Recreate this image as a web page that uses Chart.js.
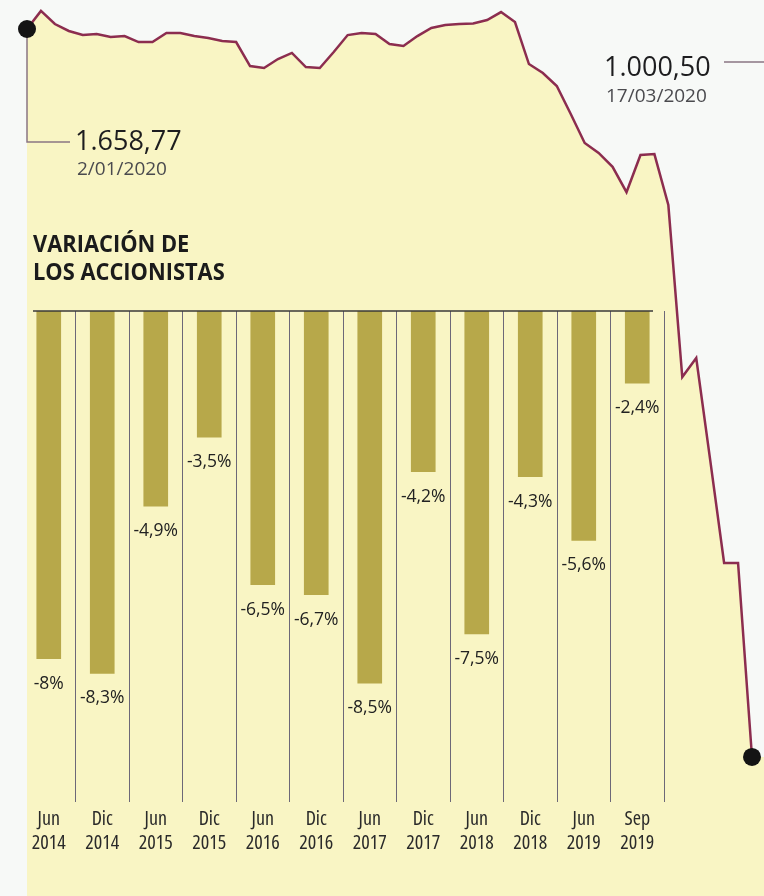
<!DOCTYPE html>
<html>
<head>
<meta charset="utf-8">
<script src="https://cdn.jsdelivr.net/npm/chart.js@4/dist/chart.umd.min.js"></script>
<style>
  html, body { margin: 0; padding: 0; background: #f7f9f7; }
  #wrap { position: relative; width: 764px; height: 896px; overflow: hidden; }
  #wrap canvas { position: absolute; left: 0; top: 0; }
</style>
</head>
<body>
<div id="wrap">
  <canvas id="indice" width="764" height="896"></canvas>
  <canvas id="variacion" width="764" height="896"></canvas>
</div>
<script>
// índice diario (2 de enero a 17 de marzo de 2020)
const fechas = [
  '02/01', '03/01', '07/01', '08/01', '09/01', '10/01', '13/01', '14/01', '15/01', '16/01', '17/01',
  '20/01', '21/01', '22/01', '23/01', '24/01', '27/01', '28/01', '29/01', '30/01', '31/01',
  '03/02', '04/02', '05/02', '06/02', '07/02', '10/02', '11/02', '12/02', '13/02', '14/02',
  '17/02', '18/02', '19/02', '20/02', '21/02', '24/02', '25/02', '26/02', '27/02', '28/02',
  '02/03', '03/03', '04/03', '05/03', '06/03', '09/03', '10/03', '11/03', '12/03', '13/03',
  '16/03', '17/03'
];
const indice = [
  1658.77, 1675.1, 1663.3, 1657.0, 1653.3, 1654.3, 1651.5, 1652.4, 1647.0, 1647.0, 1655.2,
  1655.2, 1652.4, 1650.6, 1647.9, 1647.0, 1625.3, 1623.5, 1631.6, 1637.1, 1624.4,
  1623.5, 1638.0, 1653.3, 1655.2, 1654.3, 1645.2, 1643.4, 1652.4, 1659.7, 1662.4,
  1663.3, 1663.7, 1666.9, 1674.1, 1665.1, 1627.1, 1619.0, 1607.2, 1581.9, 1555.7,
  1546.7, 1534.1, 1511.2, 1544.8, 1545.7, 1499.6, 1344.1, 1361.3, 1269.1, 1175.9,
  1175.9, 1000.50
];

// variación de los accionistas
const periodos = [
  ['Jun', '2014'], ['Dic', '2014'], ['Jun', '2015'], ['Dic', '2015'], ['Jun', '2016'], ['Dic', '2016'],
  ['Jun', '2017'], ['Dic', '2017'], ['Jun', '2018'], ['Dic', '2018'], ['Jun', '2019'], ['Sep', '2019']
];
const variacion = [-8, -8.3, -4.9, -3.5, -6.5, -6.7, -8.5, -4.2, -7.5, -4.3, -5.6, -2.4];

const sans = "'Open Sans', 'Noto Sans', sans-serif";
const amarillo = '#f9f5c4';

const fmt = v => String(v).replace('.', ',') + '%';

// etiquetas y líneas guía del índice
const notasIndice = {
  id: 'notasIndice',
  beforeDatasetsDraw(chart) {
    // el relleno continúa hasta el borde derecho bajo el último punto
    const meta = chart.getDatasetMeta(0);
    const pN = meta.data[meta.data.length - 1];
    const c = chart.ctx;
    c.save();
    c.fillStyle = amarillo;
    c.fillRect(pN.x - 1, pN.y, chart.width - pN.x + 1, chart.chartArea.bottom - pN.y);
    c.restore();
  },
  afterDatasetsDraw(chart) {
    const c = chart.ctx;
    const meta = chart.getDatasetMeta(0);
    const p0 = meta.data[0];
    const pN = meta.data[meta.data.length - 1];
    c.save();
    c.strokeStyle = '#8a7583';
    c.lineWidth = 1.5;
    c.beginPath();
    c.moveTo(p0.x, p0.y);
    c.lineTo(p0.x, 142);
    c.lineTo(70, 142);
    c.stroke();
    c.beginPath();
    c.moveTo(724, 62);
    c.lineTo(764, 62);
    c.stroke();

    c.fillStyle = '#1d1d1f';
    c.font = '500 27px ' + sans;
    c.textBaseline = 'alphabetic';
    c.fillText('1.658,77', 75, 150);
    c.fillText('1.000,50', 604, 76);
    c.fillStyle = '#4a4a4e';
    c.font = '19px ' + sans;
    c.fillText('2/01/2020', 77, 175);
    c.fillText('17/03/2020', 606, 102);

    // puntos extremos
    c.fillStyle = '#141414';
    [p0, pN].forEach(p => {
      c.beginPath();
      c.arc(p.x, p.y, 9, 0, Math.PI * 2);
      c.fill();
    });
    c.restore();
  }
};

new Chart(document.getElementById('indice'), {
  type: 'line',
  data: {
    labels: fechas,
    datasets: [{
      data: indice,
      borderColor: '#8c2d4f',
      borderWidth: 2.5,
      backgroundColor: amarillo,
      fill: 'start',
      pointRadius: 0,
      tension: 0,
      clip: false
    }]
  },
  options: {
    responsive: false,
    animation: false,
    layout: { padding: { left: 27, right: 12, top: 0, bottom: 0 } },
    plugins: { legend: { display: false }, tooltip: { enabled: false } },
    scales: {
      x: { display: false },
      y: { display: false, min: 874.8, max: 1685 }
    }
  },
  plugins: [notasIndice]
});

const notasBarras = {
  id: 'notasBarras',
  afterDraw(chart) {
    const c = chart.ctx;
    const a = chart.chartArea;
    c.save();
    // título, algo estrecho
    c.save();
    c.translate(33, 0);
    c.scale(0.91, 1);
    c.fillStyle = '#1b1b1b';
    c.font = 'bold 24px ' + sans;
    c.fillText('VARIACIÓN DE', 0, 252);
    c.fillText('LOS ACCIONISTAS', 0, 280);
    c.restore();

    c.strokeStyle = '#3a3838';
    c.lineWidth = 1.5;
    c.beginPath();
    c.moveTo(a.left + 11, a.top);
    c.lineTo(a.right - 11, a.top);
    c.stroke();

    c.font = '500 17.5px ' + sans;
    c.textAlign = 'center';
    c.textBaseline = 'middle';
    c.fillStyle = '#222';
    chart.getDatasetMeta(0).data.forEach((bar, i) => {
      c.fillText(fmt(variacion[i]), bar.x, bar.y + 25);
    });
    c.restore();
  }
};

new Chart(document.getElementById('variacion'), {
  type: 'bar',
  data: {
    labels: periodos,
    datasets: [{
      data: variacion,
      backgroundColor: '#b7a84a',
      barThickness: 24
    }]
  },
  options: {
    responsive: false,
    animation: false,
    layout: { padding: { left: 22, right: 100, top: 311, bottom: 44 } },
    plugins: { legend: { display: false }, tooltip: { enabled: false } },
    scales: {
      x: {
        afterFit: s => { s.height = 50; },
        grid: {
          offset: true,
          drawTicks: false,
          lineWidth: 1,
          color: ctx => (ctx.index === 0 || ctx.index === periodos.length) ? 'rgba(0,0,0,0)' : '#6d6878'
        },
        border: { display: false },
        ticks: {
          padding: 5,
          color: '#2a2a2a',
          font: { family: sans, size: 20, weight: 'condensed', lineHeight: 1.2 }
        }
      },
      y: { display: false, min: -10.915, max: -0.935 }
    }
  },
  plugins: [notasBarras]
});
</script>
</body>
</html>
